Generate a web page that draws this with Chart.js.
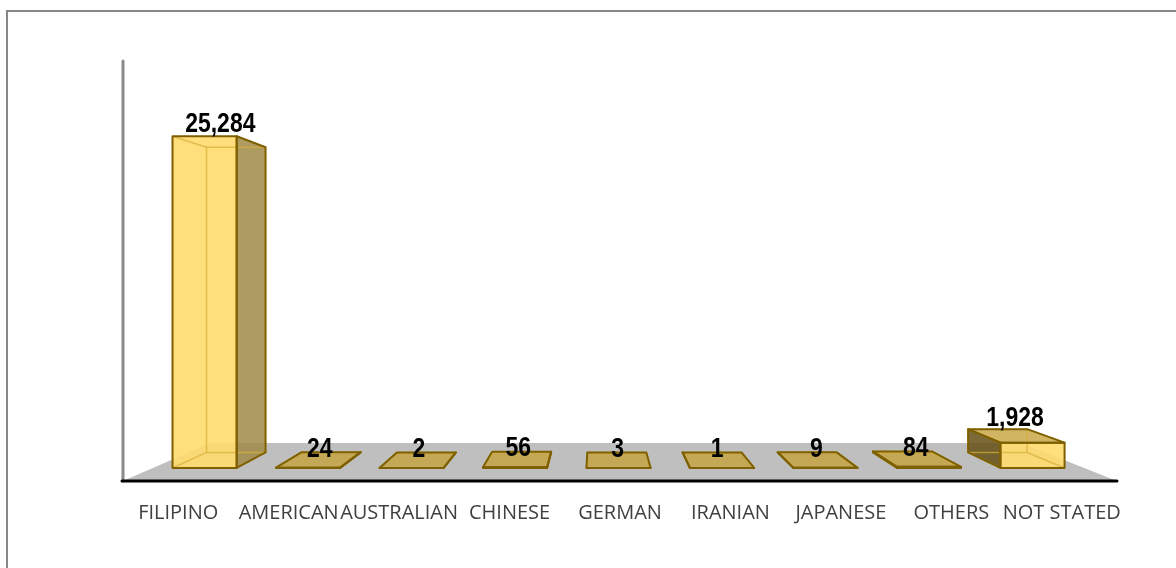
<!DOCTYPE html>
<html>
<head>
<meta charset="utf-8">
<script src="https://cdn.jsdelivr.net/npm/chart.js@4.4.0/dist/chart.umd.min.js"></script>
<style>
  body { margin: 0; background: #fff; }
  canvas { display: block; }
</style>
</head>
<body>
<canvas id="myChart" width="1176" height="568"></canvas>
<script>
// chart data
const categories = ['FILIPINO', 'AMERICAN', 'AUSTRALIAN', 'CHINESE', 'GERMAN', 'IRANIAN', 'JAPANESE', 'OTHERS', 'NOT STATED'];
const counts = [25284, 24, 2, 56, 3, 1, 9, 84, 1928];
const yMax = 30000;

// fake 3d perspective: vanishing point and depth scales
const VP_X = 597, VP_Y = 274;
const FRONT = 0.937, BACK = 0.862, FLOOR_BACK = 0.816;

function proj(x, y, s) {
    return [VP_X + s * (x - VP_X), VP_Y + s * (y - VP_Y)];
}

function poly(ctx, pts) {
    ctx.beginPath();
    ctx.moveTo(pts[0][0], pts[0][1]);
    for (let i = 1; i < pts.length; i++) ctx.lineTo(pts[i][0], pts[i][1]);
    ctx.closePath();
}

function line(ctx, a, b) {
    ctx.beginPath();
    ctx.moveTo(a[0], a[1]);
    ctx.lineTo(b[0], b[1]);
    ctx.stroke();
}

const frameBorder = {
    id: 'frameBorder',
    beforeDraw(chart) {
        let ctx = chart.ctx;
        ctx.save();
        ctx.strokeStyle = '#878787';
        ctx.lineWidth = 2;
        ctx.strokeRect(7, 11, 3000, 3000);
        ctx.restore();
    }
};

const bars3d = {
    id: 'bars3d',
    afterDatasetsDraw(chart) {
        let ctx = chart.ctx;
        let area = chart.chartArea;
        let yScale = chart.scales.y;
        let meta = chart.getDatasetMeta(0);
        let y0 = yScale.getPixelForValue(0);

        ctx.save();

        // floor
        ctx.fillStyle = '#bfbfbf';
        poly(ctx, [proj(area.left, y0, 1), proj(area.right, y0, 1), proj(area.right, y0, FLOOR_BACK), proj(area.left, y0, FLOOR_BACK)]);
        ctx.fill();

        // axis lines
        ctx.lineCap = 'round';
        ctx.strokeStyle = '#8a8a8a';
        ctx.lineWidth = 3;
        line(ctx, [area.left, area.top], [area.left, y0]);
        ctx.strokeStyle = '#000';
        line(ctx, [area.left - 1, y0], [area.right, y0]);
        ctx.lineCap = 'butt';

        meta.data.forEach((bar, i) => {
            let x0 = bar.x - bar.width / 2;
            let x1 = bar.x + bar.width / 2;
            let yt = yScale.getPixelForValue(counts[i]);

            let fTL = proj(x0, yt, FRONT), fTR = proj(x1, yt, FRONT);
            let fBL = proj(x0, y0, FRONT), fBR = proj(x1, y0, FRONT);
            let bTL = proj(x0, yt, BACK), bTR = proj(x1, yt, BACK);
            let bBL = proj(x0, y0, BACK), bBR = proj(x1, y0, BACK);

            let rightVis = x1 < VP_X;
            let leftVis = x0 > VP_X;
            let topVis = yt > VP_Y;

            if (rightVis) {
                ctx.fillStyle = 'rgba(160, 138, 70, 0.85)';
                poly(ctx, [fTR, bTR, bBR, fBR]);
                ctx.fill();
            }
            if (leftVis) {
                ctx.fillStyle = 'rgba(100, 80, 20, 0.85)';
                poly(ctx, [fTL, bTL, bBL, fBL]);
                ctx.fill();
            }
            if (topVis) {
                ctx.fillStyle = 'rgba(198, 162, 60, 0.8)';
                poly(ctx, [fTL, fTR, bTR, bTL]);
                ctx.fill();
            }

            ctx.fillStyle = 'rgba(255, 218, 110, 0.9)';
            poly(ctx, [fTL, fTR, fBR, fBL]);
            ctx.fill();

            // inner edges seen through the bar
            ctx.strokeStyle = 'rgba(215, 175, 55, 0.7)';
            ctx.lineWidth = 1.5;
            poly(ctx, [bTL, bTR, bBR, bBL]);
            ctx.stroke();
            line(ctx, fTL, bTL);
            line(ctx, fBL, bBL);
            line(ctx, fTR, bTR);
            line(ctx, fBR, bBR);

            // outline
            ctx.strokeStyle = '#7f6000';
            ctx.lineWidth = 2;
            ctx.lineJoin = 'round';
            poly(ctx, [fTL, fTR, fBR, fBL]);
            ctx.stroke();
            if (rightVis) { poly(ctx, [fTR, bTR, bBR, fBR]); ctx.stroke(); }
            if (leftVis) { poly(ctx, [fTL, bTL, bBL, fBL]); ctx.stroke(); }
            if (topVis) { poly(ctx, [fTL, fTR, bTR, bTL]); ctx.stroke(); }

            // value label, squeezed to look like a narrow face
            let mid = (FRONT + BACK) / 2;
            let lp = proj(bar.x, yt, mid);
            let off = (y0 - yt) > 5 ? 10 : 3;
            ctx.save();
            ctx.translate(lp[0], lp[1] - off);
            ctx.scale(0.82, 1);
            ctx.fillStyle = '#000';
            ctx.font = 'bold 28px "Liberation Sans", Arial, sans-serif';
            ctx.textAlign = 'center';
            ctx.textBaseline = 'alphabetic';
            ctx.fillText(counts[i].toLocaleString('en-US'), 0, 0);
            ctx.restore();
        });

        ctx.restore();
    }
};

var ctx = document.getElementById('myChart').getContext('2d');
var myChart = new Chart(ctx, {
    type: 'bar',
    data: {
        labels: categories,
        datasets: [
            {
                label: 'Population',
                data: counts,
                backgroundColor: 'rgba(0, 0, 0, 0)',
                borderWidth: 0,
                categoryPercentage: 1,
                barPercentage: 0.62
            }
        ]
    },
    options: {
        responsive: false,
        animation: false,
        layout: {
            padding: { left: 123, right: 59, top: 61, bottom: 0 }
        },
        plugins: {
            legend: { display: false },
            tooltip: { enabled: false }
        },
        scales: {
            x: {
                grid: { display: false },
                border: { display: false },
                ticks: {
                    color: '#404040',
                    padding: 12,
                    maxRotation: 0,
                    autoSkip: false,
                    font: { family: '"Open Sans", sans-serif', size: 20 }
                },
                afterFit(scale) { scale.height = 87; }
            },
            y: {
                display: false,
                min: 0,
                max: yMax,
                beginAtZero: true
            }
        }
    },
    plugins: [frameBorder, bars3d]
});
</script>
</body>
</html>
